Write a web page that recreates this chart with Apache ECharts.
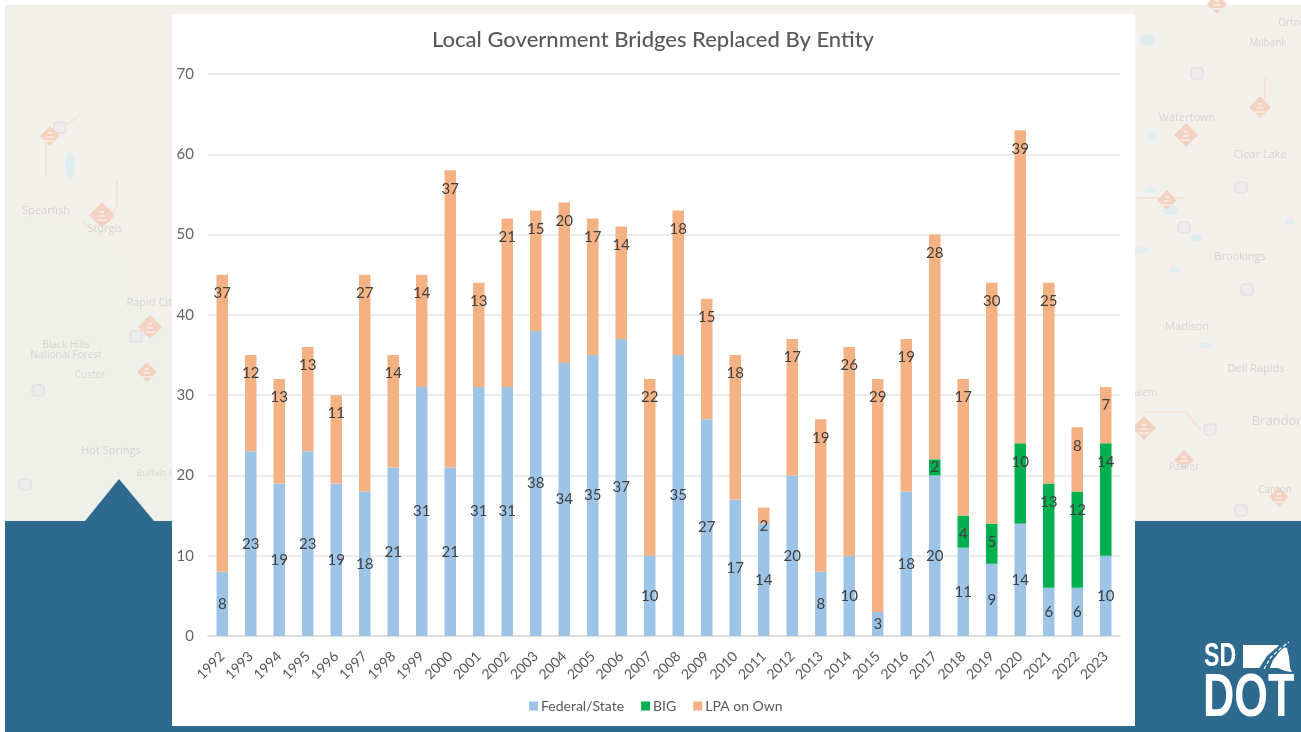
<!DOCTYPE html>
<html>
<head>
<meta charset="utf-8">
<title>Local Government Bridges Replaced By Entity</title>
<script src="https://cdn.jsdelivr.net/npm/echarts@6/dist/echarts.min.js"></script>
<style>
  html, body { margin: 0; padding: 0; background: #fff; }
  #chart { width: 1301px; height: 732px; }
</style>
</head>
<body>
<div id="chart"></div>
<script>
const years = ["1992","1993","1994","1995","1996","1997","1998","1999","2000","2001","2002","2003","2004","2005","2006","2007","2008","2009","2010","2011","2012","2013","2014","2015","2016","2017","2018","2019","2020","2021","2022","2023"];
const federalState = [8,23,19,23,19,18,21,31,21,31,31,38,34,35,37,10,35,27,17,14,20,8,10,3,18,20,11,9,14,6,6,10];
const big = [0,0,0,0,0,0,0,0,0,0,0,0,0,0,0,0,0,0,0,0,0,0,0,0,0,2,4,5,10,13,12,14];
const lpaOnOwn = [37,12,13,13,11,27,14,14,37,13,21,15,20,17,14,22,18,15,18,2,17,19,26,29,19,28,17,30,39,25,8,7];
const yTicks = [0,10,20,30,40,50,60,70];

const BLUE = "#2e6a8e";
const MAP_TEXT = "#d6d4d1";

// faint map behind the panel: [label, centre x, centre y, font size]
const mapLabels = [
  ["Spearfish",46,211,11],["Sturgis",105,229,11],["Rapid City",152,303,11],
  ["Black Hills",66,345,10],["National Forest",66,355,10],["Custer",90,375,10],
  ["Hot Springs",111,451,11],["Buffalo G",156,473,9],["Orton",1292,23,10],
  ["Milbank",1268,43,10],["Watertown",1187,118,11],["Clear Lake",1260,155,11],
  ["Brookings",1240,257,11],["Madison",1187,327,11],["Dell Rapids",1256,369,11],
  ["Salem",1143,393,10],["Brandon",1278,421,13],["Parker",1184,467,10],["Canton",1275,490,10]
];
const mapDiamonds = [[50,136,10],[102,215,13],[150,327,12],[147,372,10],[1217,4,10],[1260,107,11],[1186,135,12],[1167,200,10],[1144,428,12],[1184,460,10],[1279,497,10]];
const mapShields = [[60,128],[136,337],[38,391],[25,485],[1197,74],[1241,188],[1184,228],[1247,290],[1210,430],[1241,511]];
const mapLakes = [[70,166,5,13],[1147,40,8,6],[1152,136,6,5],[1170,210,8,5],[1196,238,6,4],[1142,250,8,3],[1175,270,6,3],[1205,345,6,3],[1290,222,5,3],[1150,190,6,3]];
const mapRoads = [
  [[46,176],[46,140],[80,115]],[[117,180],[117,205],[109,222]],[[82,222],[102,235]],
  [[1136,198],[1185,198]],[[1265,78],[1265,115]],[[1143,412],[1186,412],[1200,430]]
];

const shape = (type, s, style, extra) => Object.assign({ type, shape: s, style, silent: true, z: -10 }, extra);

const decor = [
  shape("rect", { x: 5, y: 5, width: 1296, height: 520 }, { fill: "#f3f0ec" }),
  shape("polygon", { points: [[5,215],[70,225],[115,250],[135,300],[170,330],[172,521],[5,521]] }, { fill: "#eef0e9" })
];
mapRoads.forEach(p => decor.push(shape("polyline", { points: p }, { stroke: "#f4e3d9", lineWidth: 2, fill: null })));
mapLakes.forEach(l => decor.push(shape("ellipse", { cx: l[0], cy: l[1], rx: l[2], ry: l[3] }, { fill: "#e0edf0" })));
mapShields.forEach(s => decor.push(shape("rect", { x: s[0] - 6, y: s[1] - 6, width: 12, height: 11, r: 3 }, { fill: "#eeebec", stroke: "#dddbdf", lineWidth: 1 })));
mapDiamonds.forEach(d => {
  const [x, y, r] = d;
  decor.push(shape("polygon", { points: [[x, y - r], [x + r, y], [x, y + r], [x - r, y]] }, { fill: "#f2d3c1" }));
  [-3, 1, 5].forEach((o, i) => decor.push(shape("line", { x1: x - 2 - i * 1.5, y1: y + o, x2: x + 2 + i * 1.5, y2: y + o }, { stroke: "#fbeee6", lineWidth: 1.5 })));
});
mapLabels.forEach(l => decor.push({
  type: "text", x: l[1], y: l[2], silent: true, z: -10,
  style: { text: l[0], fill: MAP_TEXT, font: l[3] + 'px "Open Sans"', align: "center", verticalAlign: "middle" }
}));
decor.push(
  shape("rect", { x: 5, y: 521, width: 1296, height: 211 }, { fill: BLUE }),
  shape("polygon", { points: [[119,479],[154,521],[85,521]] }, { fill: BLUE }),
  shape("rect", { x: 172, y: 14, width: 963, height: 712 }, { fill: "#ffffff" })
);

// SD DOT logo
const logo = [
  { type: "text", x: 1204, y: 657, silent: true, z: 5, scaleX: 0.7,
    style: { text: "SD", fill: "#fff", font: 'bold 33px "Liberation Sans"', verticalAlign: "middle" } },
  { type: "text", x: 1203, y: 699, silent: true, z: 5, scaleX: 0.71,
    style: { text: "DOT", fill: "#fff", font: 'bold 61px "Liberation Sans"', verticalAlign: "middle" } },
  shape("polygon", { points: [[1243,645],[1277,645],[1287,648],[1289,657],[1290,668],[1292,672],[1285,671],[1278,668],[1263,668],[1243,668]] }, { fill: "#fff" }, { z: 5 }),
  shape("polygon", { points: [[1258,670],[1267,656],[1282,643],[1290,640],[1291,642],[1280,651],[1273,660],[1269,670]] }, { fill: BLUE }, { z: 6 }),
  shape("polyline", { points: [[1264,669],[1271,657],[1281,648],[1289,642]] }, { stroke: "#fff", lineWidth: 1.2, lineDash: [4, 2], fill: null }, { z: 7 })
];

const baseLabel = { show: true, color: "#404040", fontSize: 15, fontFamily: "Lato" };
const centerLabel = Object.assign({}, baseLabel, { position: "inside", formatter: p => (p.value ? p.value : "") });
const topLabel = Object.assign({}, baseLabel, { position: "insideTop", distance: 11, formatter: p => (p.value ? p.value : "") });

const makeBar = (name, data, color, label) => ({
  name,
  type: "bar",
  stack: "total",
  barWidth: 11.5,
  data,
  itemStyle: { color },
  label,
  labelLayout: { hideOverlap: false },
  emphasis: { disabled: true }
});

// the 2017 BIG segment is too short for the top placement, its label sits in the middle
const bigData = big.map(v => (v === 2 ? { value: v, label: { position: "inside" } } : v));

const chart = echarts.init(document.getElementById("chart"), null, { renderer: "canvas" });
chart.setOption({
  animation: false,
  backgroundColor: "#ffffff",
  textStyle: { fontFamily: "Lato" },
  title: {
    text: "Local Government Bridges Replaced By Entity",
    left: 648,
    top: 24,
    textAlign: "center",
    textStyle: { color: "#595959", fontSize: 22, fontWeight: 500, fontFamily: "Lato" }
  },
  legend: {
    left: 524,
    top: 694,
    itemWidth: 9,
    itemHeight: 9,
    itemGap: 17,
    icon: "rect",
    textStyle: { color: "#595959", fontSize: 14, fontFamily: "Lato", padding: [0, 0, 0, -2] },
    data: ["Federal/State", "BIG", "LPA on Own"]
  },
  grid: { left: 208, right: 181, top: 74, height: 562 },
  xAxis: {
    type: "category",
    data: years,
    axisTick: { show: false },
    axisLine: { lineStyle: { color: "#dcdcdc", width: 1.5 } },
    axisLabel: { rotate: 45, color: "#595959", fontSize: 14, margin: 18, interval: 0, fontFamily: "Lato" }
  },
  yAxis: {
    type: "value",
    min: yTicks[0],
    max: yTicks[yTicks.length - 1],
    interval: 10,
    axisLine: { show: false },
    axisTick: { show: false },
    axisLabel: { color: "#666666", fontSize: 15, margin: 14, fontFamily: "Lato" },
    splitLine: { lineStyle: { color: "#e4e4e4", width: 1.5 } }
  },
  graphic: { elements: decor.concat(logo) },
  series: [
    makeBar("Federal/State", federalState, "#9dc3e6", centerLabel),
    makeBar("BIG", bigData, "#00b050", topLabel),
    makeBar("LPA on Own", lpaOnOwn, "#f4b183", topLabel)
  ]
});
</script>
</body>
</html>
